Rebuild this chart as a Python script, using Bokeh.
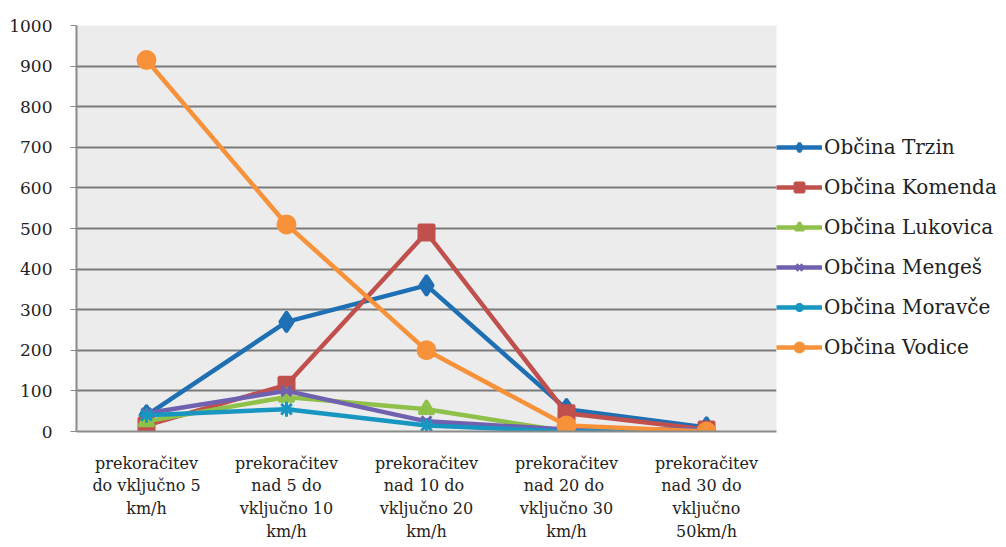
from bokeh.plotting import figure
from bokeh.models import Legend, LegendItem, FixedTicker, Range1d
from bokeh.embed import file_html
from bokeh.resources import INLINE

categories = [
    "prekoračitev\ndo vključno 5\nkm/h",
    "prekoračitev\nnad 5 do\nvključno 10\nkm/h",
    "prekoračitev\nnad  10 do\nvključno 20\nkm/h",
    "prekoračitev\nnad  20 do\nvključno 30\nkm/h",
    "prekoračitev\nnad  30  do\nvključno\n50km/h",
]
trzin = [40, 270, 360, 55, 10]
komenda = [15, 115, 490, 45, 5]
lukovica = [25, 85, 55, 0, 0]
menges = [45, 100, 25, 5, 5]
moravce = [40, 55, 15, 0, 0]
vodice = [915, 510, 200, 15, 0]
y_ticks = list(range(0, 1001, 100))

series = [
    ("Občina Trzin", trzin, "#1f6fb4", "diamond", 20),
    ("Občina Komenda", komenda, "#c0504d", "square", 15),
    ("Občina Lukovica", lukovica, "#8fc04a", "triangle", 15),
    ("Občina Mengeš", menges, "#7060b0", "x", 14),
    ("Občina Moravče", moravce, "#1796c2", "asterisk", 15),
    ("Občina Vodice", vodice, "#f7923a", "circle", 17),
]

FONT = "DejaVu Serif"

p = figure(frame_width=700, frame_height=406, x_range=categories, y_range=Range1d(0, 1000),
           output_backend="svg", toolbar_location=None,
           min_border_left=76, min_border_right=0, min_border_top=25, min_border_bottom=110)
p.background_fill_color = "#ececec"
p.border_fill_color = "white"
p.outline_line_color = None
p.xgrid.grid_line_color = None
p.ygrid.grid_line_color = "#7a7a7a"
p.ygrid.grid_line_width = 2
p.yaxis.ticker = FixedTicker(ticks=y_ticks)
p.yaxis.axis_line_color = "#8a8a8a"
p.yaxis.axis_line_width = 2
p.yaxis.major_tick_line_color = "#8a8a8a"
p.yaxis.major_tick_out = 6
p.yaxis.major_tick_in = 0
p.yaxis.minor_tick_line_color = None
p.yaxis.major_label_text_font = FONT
p.yaxis.major_label_text_font_size = "17px"
p.yaxis.major_label_text_color = "#222222"
p.yaxis.major_label_standoff = 18
p.xaxis.axis_line_color = "#8a8a8a"
p.xaxis.axis_line_width = 2
p.xaxis.major_tick_line_color = None
p.xaxis.major_label_text_font = FONT
p.xaxis.major_label_text_font_size = "16px"
p.xaxis.major_label_text_color = "#222222"
p.xaxis.major_label_standoff = 16
p.x_range.range_padding = 0

items = []
for name, vals, color, marker, size in series:
    r1 = p.line(categories, vals, line_color=color, line_width=4.5)
    r2 = p.scatter(categories, vals, marker=marker, size=size, fill_color=color,
                   line_color=color, line_width=3)
    items.append(LegendItem(label=name, renderers=[r1, r2]))

legend = Legend(items=items, location=(0, 72), spacing=16,
                label_text_font=FONT, label_text_font_size="20px",
                label_text_color="#222222", glyph_width=46, glyph_height=22,
                background_fill_alpha=0, border_line_color=None, padding=0,
                margin=0, label_standoff=2)
p.add_layout(legend, "right")

open("out.html", "w").write(file_html(p, INLINE))
